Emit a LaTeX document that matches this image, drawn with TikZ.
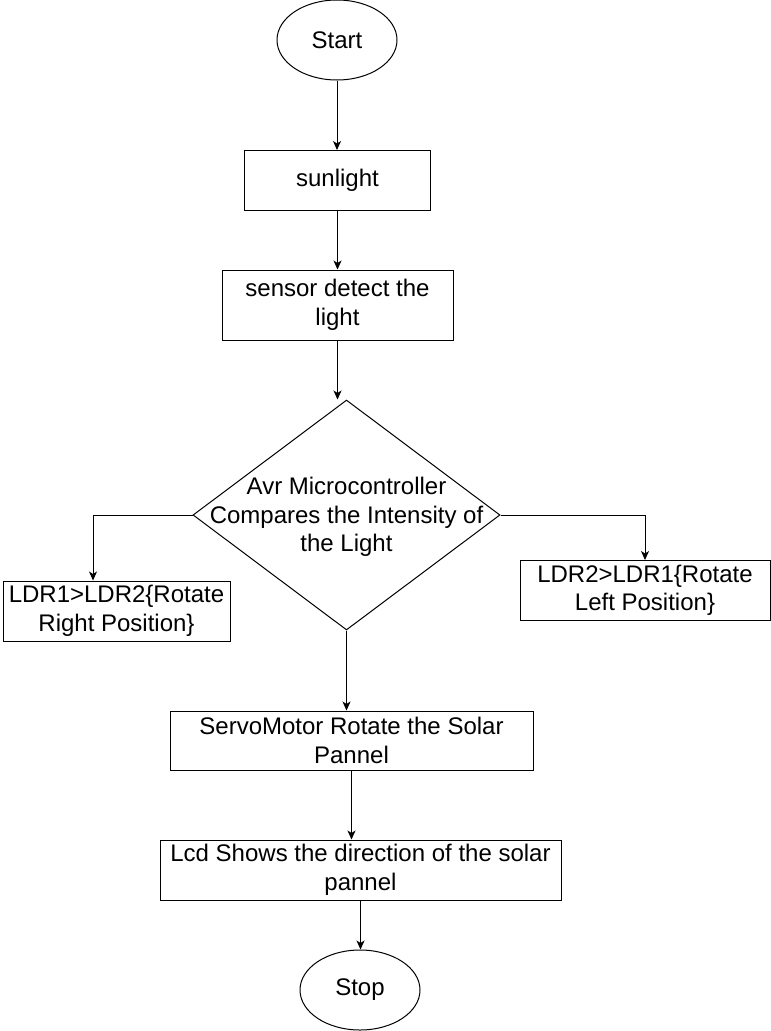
\documentclass[tikz,border=0pt]{standalone}
\usepackage{fontspec}
\setmainfont{Liberation Sans}
\usetikzlibrary{shapes.geometric,arrows.meta}
\begin{document}
\begin{tikzpicture}[x=1pt,y=-1pt,
  every node/.style={font=\fontsize{24}{28.5}\selectfont, align=center, inner sep=0pt, line width=1pt},
  box/.style={draw, rectangle},
  term/.style={draw, ellipse, minimum width=120pt, minimum height=80pt},
  dec/.style={draw, diamond, minimum width=307pt, minimum height=230pt},
  arr/.style={line width=1pt, -{Stealth[length=9pt,width=8pt,inset=2.5pt]}}]
\fill[white] (0,0) rectangle (771,1031);
\useasboundingbox (0,0) rectangle (771,1031);
\node[term] (start) at (337,40) {Start};
\node[box, minimum width=186pt, minimum height=60pt] (sun) at (337.5,180.5) {sunlight};
\node[box, minimum width=231pt, minimum height=70pt] (sens) at (337.5,305) {sensor detect the\\light};
\node[dec] (cmp) at (346.5,515) {};
\node (cmptxt) at (346.5,517) {Avr Microcontroller\\Compares the Intensity of\\the Light};
\node[box, minimum width=227pt, minimum height=60pt] (left) at (116.5,611) {LDR1>LDR2\{Rotate\\Right Position\}};
\node[box, minimum width=250pt, minimum height=60pt] (right) at (645,590.5) {LDR2>LDR1\{Rotate\\Left Position\}};
\node[box, minimum width=363pt, minimum height=59pt] (servo) at (351.5,740.5) {ServoMotor Rotate the Solar\\Pannel};
\node[box, minimum width=401pt, minimum height=60pt] (lcd) at (360.5,870) {Lcd Shows the direction of the solar\\pannel};
\node[term] (stop) at (360,990) {Stop};
\draw[arr] (start.south) -- (start.south |- sun.north);
\draw[arr] (sun.south) -- (sun.south |- sens.north);
\draw[arr] (sens.south) -- (sens.south |- cmp.north);
\draw[arr] (cmp.west) -| ([xshift=-23.5pt]left.north);
\draw[arr] (cmp.east) -| (right.north);
\draw[arr] (cmp.south) -- (cmp.south |- servo.north);
\draw[arr] (servo.south) -- (servo.south |- lcd.north);
\draw[arr] (lcd.south) -- (lcd.south |- stop.north);
\end{tikzpicture}
\end{document}
